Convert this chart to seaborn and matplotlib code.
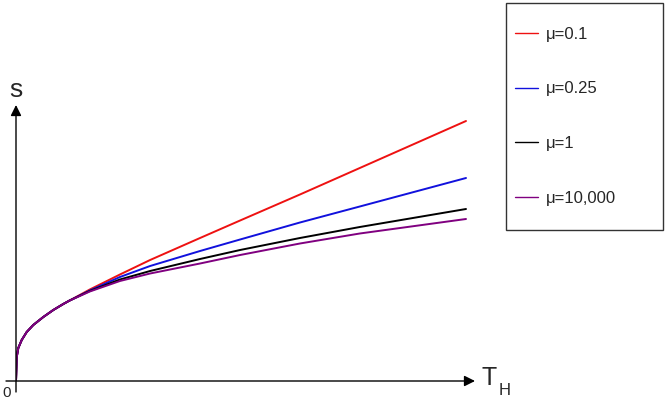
import numpy as np
import pandas as pd
import seaborn as sns
import matplotlib.pyplot as plt
from matplotlib.patches import Rectangle

# Values (arbitrary units).
t_h = [0, 0.016, 0.051, 0.127, 0.238, 0.384, 0.607, 0.829, 1.051, 1.184,
       1.64, 2.31, 2.98, 4.09, 4.98, 6.31, 7.64, 10.0]
s_early = [0, 24, 33, 41, 49, 56, 64, 71, 77, 80.3]
s_mu_01 = s_early + [91.5, 106.5, 121, 143, 160.5, 186.5, 213, 260]
s_mu_025 = s_early + [90.5, 104, 115, 130, 141.5, 158.5, 174.5, 203]
s_mu_1 = s_early + [90, 101.5, 110, 122, 131, 143, 154, 172]
s_mu_10000 = s_early + [89.5, 100, 107.5, 117.5, 126, 137.5, 147.5, 162]

labels = ["μ=0.1", "μ=0.25", "μ=1", "μ=10,000"]
colors = ["#ee1111", "#1111dd", "#000000", "#800080"]
series = [s_mu_01, s_mu_025, s_mu_1, s_mu_10000]

sns.set_style("white")
plt.rcParams["font.family"] = ["Liberation Sans", "DejaVu Sans"]

W, H = 672, 408
fig = plt.figure(figsize=(W / 100, H / 100), dpi=100)
ax = fig.add_axes([16 / W, 27 / H, 459 / W, 276 / H])

for vals, lab, col in zip(series, labels, colors):
    df = pd.DataFrame({"T": t_h, "s": vals})
    sns.lineplot(data=df, x="T", y="s", color=col, label=lab, lw=1.4, sort=False, ax=ax)

ax.set_xlim(0, 459 / 45)
ax.set_ylim(0, 276)
for sp in ax.spines.values():
    sp.set_visible(False)
ax.set_xticks([])
ax.set_yticks([])
ax.set_xlabel("")
ax.set_ylabel("")

# axis arrows
arrow = dict(arrowstyle="-|>", mutation_scale=16, lw=1, color="black", shrinkA=0, shrinkB=0)
ax.annotate("", xy=(1, 0), xytext=(-10 / 459, 0), xycoords="axes fraction",
            textcoords="axes fraction", arrowprops=arrow, annotation_clip=False)
ax.annotate("", xy=(0, 1), xytext=(0, -11 / 276), xycoords="axes fraction",
            textcoords="axes fraction", arrowprops=arrow, annotation_clip=False)

fig.text(16 / W, 1 - 97 / H, "s", fontsize=19, ha="center", va="baseline")
fig.text(482 / W, 1 - 385 / H, "T", fontsize=18, ha="left", va="baseline")
fig.text(499 / W, 1 - 395 / H, "H", fontsize=12, ha="left", va="baseline")
fig.text(6.5 / W, 1 - 397 / H, "0", fontsize=11, ha="center", va="baseline")

# legend
leg = ax.legend(loc="upper left", bbox_to_anchor=(515 / W, 1 - 27 / H),
                bbox_transform=fig.transFigure, frameon=False, fontsize=12,
                labelspacing=2.37, handlelength=1.4, handletextpad=0.45,
                borderpad=0, borderaxespad=0)
for ln in leg.get_lines():
    ln.set_linewidth(1)
fig.add_artist(Rectangle((506 / W, 1 - 230 / H), 157 / W, 227 / H,
                         transform=fig.transFigure, fill=False, ec="#333333", lw=1))

plt.savefig("out.png", dpi=100)
